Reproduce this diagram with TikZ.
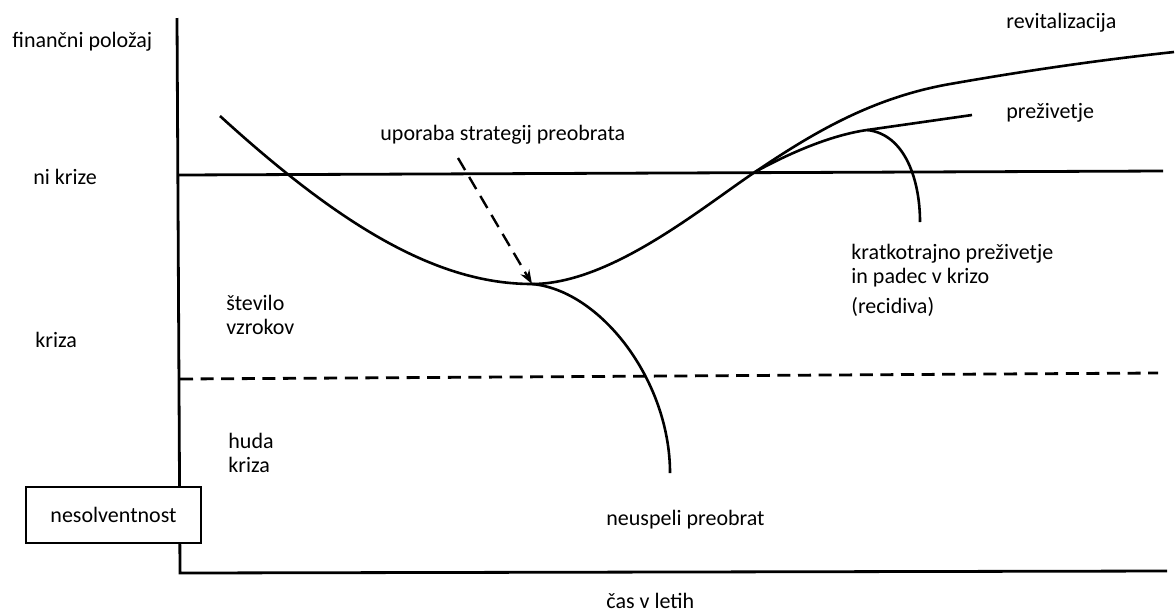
\documentclass[tikz,border=0pt]{standalone}
\usepackage{fontspec}
\setmainfont{Carlito}
\usetikzlibrary{arrows.meta, positioning}

\begin{document}
\begin{tikzpicture}[
    x=0.5pt, y=-0.5pt,
    axis/.style={line width=1.4pt},
    trend/.style={line width=1.3pt},
    limit/.style={line width=1.4pt, dash pattern=on 6.5pt off 3.8pt},
    hint/.style={-{Stealth[length=7pt, width=5pt]}, line width=1.2pt, dash pattern=on 7pt off 4pt},
    label/.style={font=\fontsize{11}{12}\selectfont, inner sep=0pt, align=left, anchor=base west},
    box/.style={draw, fill=white, line width=0.8pt, minimum width=87.5pt, minimum height=28pt, font=\fontsize{11}{12}\selectfont}
  ]
  \useasboundingbox (0,0) rectangle (1176,612);

  % axes
  \coordinate (origin) at (180,573);
  \coordinate (ytop) at (177,18);
  \coordinate (xend) at (1167,571);
  \draw[axis] (ytop) -- (origin) -- (xend);

  % no crisis / severe crisis thresholds
  \coordinate (ok-l) at (178,175);
  \coordinate (ok-r) at (1163,171);
  \draw[axis] (ok-l) -- (ok-r);
  \coordinate (cr-l) at (180,379);
  \coordinate (cr-r) at (1158,373);
  \draw[limit] (cr-l) -- (cr-r);

  \node[box] (insolv) at (113.5,515) {nesolventnost};

  % key points on the curve
  \coordinate (begin) at (220,116);
  \coordinate (trough) at (532,284);
  \coordinate (cross) at (755,172);
  \coordinate (bend) at (950,84);
  \coordinate (revend) at (1174,52);
  \coordinate (peak) at (867,130);
  \coordinate (survend) at (972,115);
  \coordinate (relend) at (920,222);
  \coordinate (failend) at (670,473);
  \coordinate (start) at (458,158);

  \draw[trend] (begin) .. controls (345,230) and (440,284) .. (trough)
    .. controls (610,284) and (700,209) .. (cross)
    .. controls (810,135) and (870,98) .. (bend)
    .. controls (1030,70) and (1100,60) .. (revend);
  \draw[trend] (cross) .. controls (795,150) and (835,134.5) .. (peak) -- (survend);
  \draw[trend] (peak) .. controls (905,134) and (920,180) .. (relend);
  \draw[trend] (trough) .. controls (600,290) and (670,380) .. (failend);
  \draw[hint] (start) -- (trough);

  % labels
  \node[label] (ypos) at (12,47) {finančni položaj};
  \node[label] (nocrisis) at (33,184) {ni krize};
  \node[label] (crisis) at (35,347) {kriza};
  \node[label] (causes) at (226,334) {število\\vzrokov};
  \node[label] (severe) at (228,472) {huda\\kriza};
  \node[label] (strategy) at (380,140) {uporaba strategij preobrata};
  \node[label] (revital) at (1006,28) {revitalizacija};
  \node[label] (survive) at (1006,118) {preživetje};
  \node[label] (relapse) at (851,313) {kratkotrajno preživetje\\in padec v krizo\\[3pt] (recidiva)};
  \node[label] (failed) at (606,525) {neuspeli preobrat};
  \node[label] (time) at (606,608) {čas v letih};
\end{tikzpicture}
\end{document}
